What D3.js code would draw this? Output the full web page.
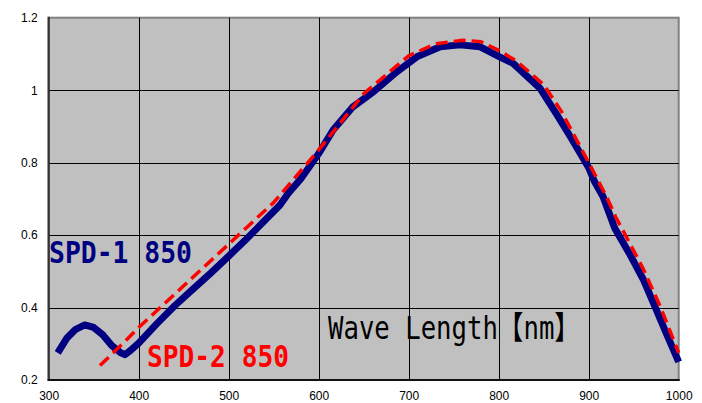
<!DOCTYPE html>
<html>
<head>
<meta charset="utf-8">
<script src="https://cdn.jsdelivr.net/npm/d3@7"></script>
<style>
  body { margin: 0; background: #fff; }
  svg { display: block; }
</style>
</head>
<body>
<svg id="canvas"></svg>
<script>
// wavelength (nm) and relative response
let spd1Nm = [310, 320, 330, 340, 350, 360, 370, 380, 385, 390, 400, 420, 440, 460, 480, 500, 520, 540, 557, 566, 580, 590, 600, 616, 638, 661, 687, 709, 735, 757, 779, 801, 816, 846, 866, 880, 900, 906, 916, 929, 945, 961, 972, 986, 1000]
let spd1Val = [0.275, 0.315, 0.34, 0.352, 0.345, 0.325, 0.295, 0.275, 0.27, 0.28, 0.302, 0.355, 0.405, 0.45, 0.495, 0.542, 0.59, 0.64, 0.683, 0.715, 0.755, 0.79, 0.825, 0.89, 0.954, 0.996, 1.051, 1.092, 1.12, 1.125, 1.12, 1.092, 1.074, 1.005, 0.927, 0.87, 0.786, 0.75, 0.706, 0.619, 0.55, 0.476, 0.412, 0.33, 0.25]

let spd2Nm = [357, 380, 400, 450, 500, 550, 600, 650, 700, 730, 760, 780, 800, 820, 850, 870, 900, 920, 930, 960, 980, 1000]
let spd2Val = [0.24, 0.295, 0.345, 0.46, 0.575, 0.69, 0.835, 0.99, 1.095, 1.128, 1.138, 1.134, 1.11, 1.08, 1.015, 0.94, 0.8, 0.705, 0.65, 0.51, 0.4, 0.275]

let xTicks = [300, 400, 500, 600, 700, 800, 900, 1000]
let yTicks = [0.2, 0.4, 0.6, 0.8, 1, 1.2]

let width = 702, height = 403
let margin = { top: 17.7, right: 23.3, bottom: 23, left: 48.7 }

let svg = d3.select('#canvas')
  .attr('width', width)
  .attr('height', height)

let xScale = d3.scaleLinear()
  .domain([300, 1000])
  .range([margin.left, width - margin.right])

let yScale = d3.scaleLinear()
  .domain([0.2, 1.2])
  .range([height - margin.bottom, margin.top])

let x0 = xScale(300), x1 = xScale(1000)
let y0 = yScale(0.2), y1 = yScale(1.2)

// plot area
svg.append('rect')
  .attr('x', x0).attr('y', y1)
  .attr('width', x1 - x0).attr('height', y0 - y1)
  .attr('fill', '#c0c0c0')
  .attr('stroke', '#808080')
  .attr('stroke-width', 2)

// grid
svg.append('g')
  .selectAll('line')
  .data(xTicks.slice(1, -1))
  .enter()
  .append('line')
  .attr('x1', d => Math.round(xScale(d)) + 0.5)
  .attr('x2', d => Math.round(xScale(d)) + 0.5)
  .attr('y1', y1).attr('y2', y0)
  .attr('stroke', '#000').attr('stroke-width', 1)

svg.append('g')
  .selectAll('line')
  .data(yTicks.slice(1, -1))
  .enter()
  .append('line')
  .attr('y1', d => Math.round(yScale(d)) + 0.5)
  .attr('y2', d => Math.round(yScale(d)) + 0.5)
  .attr('x1', x0).attr('x2', x1)
  .attr('stroke', '#000').attr('stroke-width', 1)

// axes lines
svg.append('line').attr('x1', x0).attr('x2', x0).attr('y1', y1 - 1).attr('y2', y0 + 1)
  .attr('stroke', '#333').attr('stroke-width', 2.2)
svg.append('line').attr('x1', x0 - 1).attr('x2', x1 + 1).attr('y1', y0).attr('y2', y0)
  .attr('stroke', '#111').attr('stroke-width', 2.2)

// tick labels
let xAxis = d3.axisBottom(xScale).tickValues(xTicks).tickSize(0).tickPadding(0)
  .tickFormat(d => String(d))
let gx = svg.append('g')
  .attr('transform', 'translate(0,' + (y0 + 11) + ')')
  .call(xAxis)
gx.select('.domain').remove()
gx.selectAll('text')
  .attr('font-family', 'Liberation Sans, Arial, sans-serif')
  .attr('font-size', 12)
  .attr('fill', '#000')

let yAxis = d3.axisLeft(yScale).tickValues(yTicks).tickSize(0).tickPadding(0)
  .tickFormat(d => String(+d.toFixed(1)))
let gy = svg.append('g')
  .attr('transform', 'translate(' + (x0 - 11) + ',0)')
  .call(yAxis)
gy.select('.domain').remove()
gy.selectAll('text')
  .attr('font-family', 'Liberation Sans, Arial, sans-serif')
  .attr('font-size', 12)
  .attr('fill', '#000')

let line = d3.line()
  .x(d => xScale(d[0]))
  .y(d => yScale(d[1]))

// SPD-1 thick navy
svg.append('path')
  .datum(d3.zip(spd1Nm, spd1Val))
  .attr('d', line)
  .attr('fill', 'none')
  .attr('stroke', '#000080')
  .attr('stroke-width', 7)
  .attr('stroke-linejoin', 'round')

// SPD-2 red dashed
svg.append('path')
  .datum(d3.zip(spd2Nm, spd2Val))
  .attr('d', line)
  .attr('fill', 'none')
  .attr('stroke', '#ff0000')
  .attr('stroke-width', 3.5)
  .attr('stroke-dasharray', '12,6')

// labels
let mono = 'DejaVu Sans Mono, Noto Sans CJK JP, monospace'
svg.append('text')
  .attr('x', 49).attr('y', 263)
  .attr('font-family', mono).attr('font-size', 31).attr('font-weight', 'bold')
  .attr('fill', '#000080')
  .attr('textLength', 143).attr('lengthAdjust', 'spacingAndGlyphs')
  .text('SPD-1 850')

svg.append('text')
  .attr('x', 147).attr('y', 367)
  .attr('font-family', mono).attr('font-size', 31).attr('font-weight', 'bold')
  .attr('fill', '#ff0000')
  .attr('textLength', 142).attr('lengthAdjust', 'spacingAndGlyphs')
  .text('SPD-2 850')

svg.append('text')
  .attr('x', 328).attr('y', 339)
  .attr('font-family', mono).attr('font-size', 32)
  .attr('fill', '#000')
  .attr('textLength', 252).attr('lengthAdjust', 'spacingAndGlyphs')
  .text('Wave Length【nm】')
</script>
</body>
</html>
